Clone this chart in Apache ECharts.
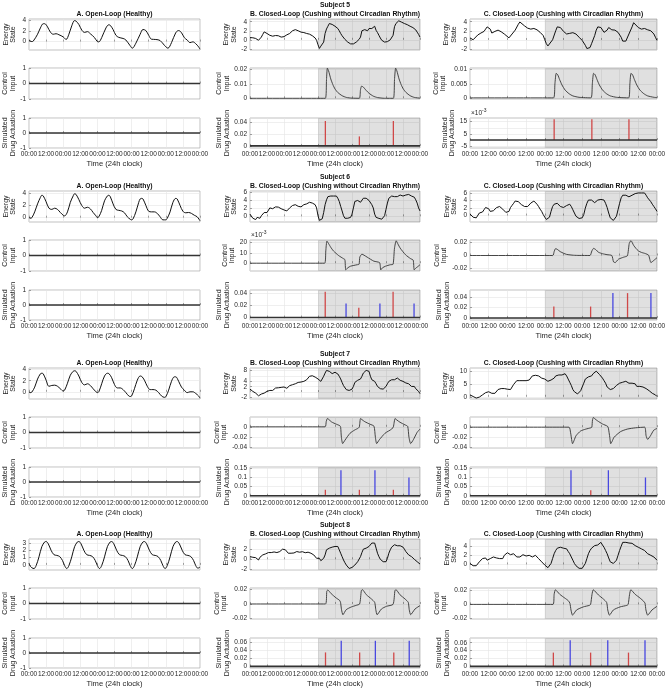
<!DOCTYPE html>
<html>
<head>
<meta charset="utf-8">
<script src="https://cdn.jsdelivr.net/npm/echarts@6/dist/echarts.min.js"></script>
<style>
html, body { margin: 0; padding: 0; background: #fff; }
#chart { width: 669px; height: 691px; }
</style>
</head>
<body>
<div id="chart"></div>
<script>
// ---- data (hours 0..120) ----
const xTickLabels = ['00:00','12:00','00:00','12:00','00:00','12:00','00:00','12:00','00:00','12:00','00:00'];
const subjectTitles = ['Subject 5', 'Subject 6', 'Subject 7', 'Subject 8'];
const columnTitles = ['A. Open-Loop (Healthy)', 'B. Closed-Loop (Cushing without Circadian Rhythm)', 'C. Closed-Loop (Cushing with Circadian Rhythm)'];
const rowNames = ['Energy\nState', 'Control\nInput', 'Simulated\nDrug Actuation'];
const zeroLine = [[0, 0], [120, 0]];
const shadeFrom = 48, shadeTo = 120;

// Subject 5
const s5A_energy = [[0,0.3],[2,0],[3,0.1],[6,1.4],[8,2.6],[10,3.4],[11,3.4],[13,2.8],[15,1.8],[17,1.4],[19,1.5],[21,1.3],[24,0.9],[26,0.4],[28,1.4],[30,3.0],[32,4.0],[33,3.9],[35,3.25],[37,2.2],[39,1.75],[41,1.9],[43,1.5],[46,0.75],[48,0],[49,-0.05],[51,0.75],[54,2.6],[56,3.2],[57,3.1],[59,2.3],[61,1.2],[63,0.8],[66,0.6],[68,0.3],[71,-0.8],[72.5,-1.25],[75,-0.3],[78,1.4],[80,2.3],[82,2.1],[84,1.2],[86,0.45],[89,0.4],[92,0.2],[95,-0.7],[97.5,-1.25],[100,-0.2],[103,1.7],[105,2.1],[107,1.7],[109,0.75],[111,0.3],[113,-0.2],[115,-0.05],[117,-0.4],[119,-1.0],[120,-1.45]];
const s5B_energy = [[0,0.5],[1,0.3],[2,0.45],[3,0.1],[4,0.3],[5,-0.05],[6,-0.1],[7,0.2],[8,0.6],[9,1.2],[10,1.75],[11,2.1],[12,1.4],[13,1.6],[14,1.0],[15,1.2],[16,0.8],[17,0.75],[18,0.95],[19,0.7],[20,0.9],[21,0.65],[22,0.6],[23,0.9],[24,0.7],[25,0.75],[26,1.1],[27,1.0],[28,1.4],[29,1.7],[30,2.0],[31,2.1],[32,2.25],[33,2.0],[34,2.0],[35,1.8],[36,1.7],[37,1.5],[38,1.6],[39,1.35],[40,1.4],[41,1.2],[42,1.25],[43,1.0],[44,0.9],[45,0.6],[46,0.4],[47,-0.1],[48,-1.1],[49,-1.9],[50,-1.4],[51,-1.1],[52,-0.5],[53,1.4],[54,2.4],[55,3.0],[56,3.6],[57,3.5],[58,3.4],[59,3.2],[60,3.0],[61,2.8],[62,2.5],[63,2.0],[64,1.4],[65,0.9],[66,0.5],[67,0.1],[68,-0.3],[69,-0.5],[70,-0.7],[71,-0.9],[72,-1.1],[73,-0.9],[74,-0.75],[75,-0.5],[76,-0.3],[77,0.1],[78,0.6],[79,2.0],[80,2.2],[81,2.25],[82,2.1],[83,2.0],[84,2.5],[85,2.4],[86,2.5],[87,2.9],[88,3.0],[89,2.1],[90,1.6],[91,1.0],[92,0.4],[93,-0.1],[94,-0.3],[95,-0.5],[96,-0.45],[97,-0.4],[98,-0.2],[99,0],[100,0.3],[101,1.0],[102,2.9],[103,3.6],[104,4.0],[105,4.2],[106,4.0],[107,3.9],[108,3.8],[109,3.6],[110,3.5],[111,3.35],[112,3.2],[113,3.0],[114,2.9],[115,2.7],[116,2.5],[117,2.2],[118,1.7],[119,1.2],[120,0.6]];
const s5C_energy = [[0,0.46],[2,0.04],[3,0.1],[5,1.1],[7,1.52],[9,1.88],[10,2.38],[11,2.87],[12,2.59],[13,2.38],[14,1.52],[16,1.88],[18,2.16],[20,1.8],[22,1.31],[23,0.96],[25,0.46],[27,1.31],[29,2.16],[31,3.44],[32,3.94],[33,3.79],[35,3.09],[37,2.59],[39,2.38],[41,2.52],[43,2.23],[45,1.67],[47,0.96],[48,0.04],[49,-0.82],[50,-1.31],[51,-1.03],[53,0.04],[55,2.02],[56,2.87],[57,3.01],[58,2.73],[60,1.88],[61,1.67],[62,1.31],[64,1.45],[66,1.6],[67,1.88],[68,1.31],[70,0.6],[72,-0.1],[74,-1.17],[75,-1.88],[76,-1.95],[77,-1.67],[78,-0.82],[80,0.96],[81,2.16],[82,2.87],[83,3.09],[84,2.73],[86,1.67],[87,1.88],[88,2.16],[89,2.73],[91,2.23],[93,2.16],[95,1.67],[97,0.6],[98,-0.25],[99,-0.53],[100,-0.25],[102,1.31],[104,2.87],[105,3.79],[106,3.65],[108,2.73],[110,2.38],[112,2.52],[114,2.23],[116,2.02],[118,1.31],[119,0.6],[120,-0.1]];
const s5B_control = [[0,0],[53.2,0],[54,0.013],[54.6,0.021],[55.5,0.019],[57,0.0135],[58.5,0.0095],[60,0.0065],[62,0.004],[65,0.0018],[68,0.0006],[72,0.0001],[77.2,0],[78,0.006],[78.8,0.0085],[80,0.0078],[82,0.0055],[84,0.0035],[87,0.0015],[90,0.0005],[95,0],[101.2,0],[102,0.013],[102.8,0.021],[103.7,0.019],[105.2,0.0135],[106.7,0.0095],[108.2,0.0065],[110.2,0.004],[113,0.0018],[116,0.0006],[120,0.0001]];
const s5C_control = [[0,0],[53.6,0],[54.5,0.005],[55.3,0.0087],[56.3,0.0082],[57.5,0.0065],[59,0.0046],[61,0.0028],[63.5,0.0015],[66,0.0007],[70,0.0002],[77.6,0],[78.5,0.005],[79.3,0.0087],[80.3,0.0082],[81.5,0.0065],[83,0.0046],[85,0.0028],[87.5,0.0015],[90,0.0007],[94,0.0002],[101.8,0],[102.6,0.005],[103.3,0.0087],[104.3,0.0082],[105.5,0.0065],[107,0.0046],[109,0.0028],[111.5,0.0015],[114,0.0007],[118,0.0002],[120,0.0001]];
const s5B_red = [[53.2,0.042],[77.2,0.016],[101.2,0.042]];
const s5B_blue = [];
const s5C_red = [[54,0.017],[78.2,0.017],[102,0.017]];
const s5C_blue = [];
const s5_ticks = [[0,2,4],[-1,0,1],[-1,0,1],[-2,0,2,4],[0,0.01,0.02],[0,0.02,0.04],[-2,0,2,4],[0,0.005,0.01],[-0.005,0,0.005,0.01,0.015]];
const s5_ranges = [[-1.6,4.3],[-1,1],[-1,1],[-2.25,4.6],[-0.0005,0.0211],[-0.0035,0.047],[-2.2,4.6],[-0.0004,0.0106],[-0.0065,0.018]];

// Subject 6
const s6A_energy = [[0,0.05],[1,-0.1],[2,0],[4,0.95],[6,2.25],[8,3.3],[9,3.65],[10,3.55],[12,2.6],[14,1.55],[16,1.35],[18,1.55],[20,1.35],[22,0.85],[24,0.4],[25,0.3],[27,0.95],[29,2.5],[31,3.55],[32,3.9],[33,3.8],[35,2.95],[37,2.0],[39,1.55],[41,1.7],[43,1.45],[45,0.85],[47,0.3],[48,0],[49,0.15],[51,1.2],[53,2.75],[55,3.55],[56,3.65],[57,3.45],[59,2.25],[61,1.35],[63,1.2],[65,1.1],[67,0.8],[69,0.15],[71,-0.25],[72,-0.35],[73,-0.2],[75,0.95],[77,2.5],[78,3.05],[79,3.15],[80,3.05],[82,2.0],[84,1.05],[86,0.95],[88,0.95],[90,0.7],[92,0.15],[94,-0.35],[96,-0.35],[97,-0.1],[99,0.95],[101,2.5],[103,3.15],[104,3.05],[106,2.0],[108,1.05],[110,0.8],[112,0.85],[114,0.7],[116,0.4],[118,0.15],[120,-0.5]];
const s6B_energy = [[0,0.55],[1,0.15],[2,-0.47],[3,-0.6],[4,-0.8],[5,-0.25],[6,-0.63],[7,-0.47],[8,0.15],[9,0.55],[10,0.95],[11,1.1],[12,0.95],[13,1.35],[14,2.1],[15,1.9],[16,1.9],[17,2.2],[18,2.35],[19,2.1],[20,2.3],[21,2.0],[22,1.9],[23,1.75],[24,1.6],[25,1.5],[26,1.35],[27,1.75],[28,2.1],[29,2.4],[30,2.7],[31,3.1],[32,2.9],[33,2.7],[34,2.5],[35,2.7],[36,2.35],[37,2.6],[38,2.9],[39,3.0],[40,3.1],[41,3.3],[42,3.5],[43,3.7],[44,3.3],[45,3.1],[46,2.9],[47,2.1],[48,0.15],[49,-1.0],[50,-1.2],[51,-0.6],[52,0.95],[53,2.9],[54,4.1],[55,4.9],[56,4.75],[57,5.05],[58,4.75],[59,5.05],[60,5.3],[61,5.05],[62,4.5],[63,3.7],[64,2.5],[65,1.35],[66,0.15],[67,-0.47],[68,-0.63],[69,-0.47],[70,-0.8],[71,-0.25],[72,0.55],[73,2.1],[74,3.7],[75,4.1],[76,3.95],[77,3.7],[78,3.5],[79,3.95],[80,4.5],[81,4.65],[82,4.5],[83,4.25],[84,3.95],[85,3.5],[86,2.9],[87,2.1],[88,0.55],[89,-0.25],[90,-0.63],[91,-0.5],[92,-0.63],[93,-0.7],[94,-0.47],[95,0.15],[96,1.75],[97,3.3],[98,4.5],[99,4.9],[100,5.05],[101,4.9],[102,4.9],[103,5.05],[104,4.9],[105,5.2],[106,5.3],[107,5.05],[108,5.05],[109,5.35],[110,5.3],[111,5.5],[112,5.45],[113,5.05],[114,5.05],[115,4.9],[116,4.75],[117,4.1],[118,3.3],[119,2.1],[120,1.35]];
const s6C_energy = [[0,0.43],[1,0.1],[2,-0.43],[3,-0.77],[4,-0.6],[5,-0.17],[6,0.68],[7,0.8],[8,0.94],[9,1.54],[10,2.14],[11,2.4],[12,1.8],[13,1.1],[14,0.94],[15,1.28],[16,1.8],[17,2.1],[18,2.4],[19,2.4],[20,2.14],[21,1.7],[22,1.28],[23,0.85],[24,0.43],[25,1.1],[26,2.14],[27,2.7],[28,3.25],[29,3.85],[30,3.93],[31,3.68],[32,3.25],[33,2.9],[34,2.65],[35,2.4],[36,2.22],[37,2.4],[38,2.82],[39,3.3],[40,3.68],[41,3.85],[42,3.68],[43,3.0],[44,2.4],[45,1.7],[46,1.1],[47,0.26],[48,-0.43],[49,-1.03],[50,-0.77],[51,-0.43],[52,1.1],[53,2.4],[54,3.0],[55,3.5],[56,3.25],[57,2.8],[58,2.4],[59,2.2],[60,2.14],[61,2.4],[62,2.65],[63,2.82],[64,3.0],[65,2.4],[66,1.54],[67,0.68],[68,-0.17],[69,-0.55],[70,-0.77],[71,-0.85],[72,-0.6],[73,0.26],[74,1.97],[75,3.25],[76,4.1],[77,4.36],[78,4.1],[79,3.68],[80,3.42],[81,3.68],[82,4.1],[83,4.27],[84,4.27],[85,4.36],[86,4.1],[87,3.25],[88,2.14],[89,0.68],[90,-0.6],[91,-1.03],[92,-1.28],[93,-1.03],[94,-0.17],[95,1.54],[96,3.25],[97,4.7],[98,5.38],[99,5.56],[100,5.38],[101,5.2],[102,4.96],[103,5.13],[104,5.38],[105,5.56],[106,5.81],[107,5.9],[108,5.98],[109,5.81],[110,5.98],[111,6.07],[112,5.98],[113,5.4],[114,4.7],[115,4.2],[116,3.68],[117,3.0],[118,2.4],[119,1.8],[120,1.1]];
const s6B_control = [[0,0],[52.7,0],[53.5,0.012],[54.3,0.0215],[55.5,0.019],[57,0.0155],[59,0.0118],[62.6,0.0074],[66,0.0044],[67,0.0035],[67.6,-0.0065],[69,-0.0045],[71,-0.0029],[75.6,-0.0015],[77,-0.001],[77.5,0.0059],[79,0.0088],[80.5,0.0078],[82.7,0.0059],[87.4,0.002],[91.5,0.0005],[92.3,-0.0065],[93.5,-0.0045],[95.7,-0.0029],[99,-0.0015],[101,-0.001],[102,0.0147],[103.2,0.0218],[104.5,0.0185],[106,0.0147],[109.8,0.0082],[113.4,0.0044],[115.2,0.003],[115.9,-0.0065],[117,-0.0048],[118,-0.0038],[120,-0.0015]];
const s6C_control = [[0,0],[53.1,0],[54,0.006],[54.9,0.0106],[56,0.0095],[57.9,0.006],[60,0.0035],[62,0.0017],[66.4,0.0004],[70,0.0001],[77,0],[78.2,0.007],[79.3,0.011],[80.5,0.0095],[82.5,0.005],[85,0.0028],[87.9,0.0013],[91,0],[92.1,-0.0098],[93.2,-0.011],[94.2,-0.0085],[95.4,-0.0055],[98.6,-0.0026],[101,-0.0004],[102.2,0.0187],[103.3,0.023],[105,0.0157],[106.5,0.011],[108,0.0072],[110,0.0048],[112.5,0.003],[114.6,0.0005],[116.1,-0.011],[117,-0.0095],[117.9,-0.0077],[120,-0.0034]];
const s6B_red = [[53.1,0.042],[76.8,0.016],[101,0.042]];
const s6B_blue = [[67.8,0.023],[91.7,0.023],[115.8,0.023]];
const s6C_red = [[53.8,0.022],[77.4,0.022],[101.1,0.048]];
const s6C_blue = [[91.7,0.048],[116.1,0.048]];
const s6_ticks = [[0,2,4],[-1,0,1],[-1,0,1],[0,2,4,6],[0,0.01,0.02],[0,0.02,0.04],[0,2,4,6],[-0.02,0,0.02],[0,0.02,0.04]];
const s6_ranges = [[-0.7,4.35],[-1,1],[-1,1],[-1.4,6.3],[-0.0076,0.0226],[-0.004,0.045],[-1.7,6.5],[-0.024,0.024],[-0.004,0.054]];

// Subject 7
const s7A_energy = [[0,0],[1,-0.15],[2,-0.05],[4,0.85],[6,2.3],[8,3.25],[9,3.35],[10,3.25],[12,2.1],[14,1.0],[16,1.15],[18,1.2],[20,1.0],[22,0.55],[24,0.15],[25,0.3],[27,1.55],[29,3.0],[31,3.7],[32,3.8],[33,3.7],[35,2.85],[37,1.7],[39,1.25],[41,1.45],[43,1.15],[45,0.55],[47,0],[48,-0.15],[49,0],[51,1.45],[53,2.85],[55,3.35],[56,3.3],[58,2.55],[60,1.3],[62,0.7],[64,0.7],[66,0.4],[68,-0.15],[70,-0.75],[71,-0.85],[72,-0.75],[74,0.55],[76,2.1],[78,2.85],[79,2.8],[81,2.1],[83,1.0],[85,0.4],[87,0.4],[89,0.3],[91,-0.15],[93,-0.75],[95,-1.0],[96,-0.9],[98,0.3],[100,1.9],[102,2.7],[103,2.7],[105,1.9],[107,0.85],[109,0.3],[111,-0.15],[113,0],[115,0],[117,-0.3],[119,-0.75],[120,-1.15]];
const s7B_energy = [[0,1.1],[1,0.7],[2,0.25],[3,0.1],[4,-0.4],[5,-0.75],[6,-1.4],[7,-1.6],[8,-0.75],[9,-0.4],[10,-0.4],[11,0.25],[12,0.25],[13,0.4],[14,0.6],[15,0.4],[16,0.6],[17,1.25],[18,1.5],[19,1.4],[20,1.6],[21,1.5],[22,1.75],[23,1.6],[24,1.9],[25,1.7],[26,1.4],[27,2.0],[28,2.4],[29,2.5],[30,2.75],[31,2.9],[32,3.1],[33,3.6],[34,3.6],[35,3.5],[36,3.75],[37,3.6],[38,4.0],[39,4.3],[40,4.6],[41,4.9],[42,5.9],[43,6.5],[44,6.1],[45,5.8],[46,5.6],[47,5.6],[48,4.9],[49,4.6],[50,4.0],[51,4.4],[52,5.9],[53,7.1],[54,8.1],[55,8.4],[56,7.75],[57,7.1],[58,6.9],[59,7.1],[60,7.4],[61,7.5],[62,6.75],[63,5.9],[64,4.9],[65,3.6],[66,2.4],[67,1.9],[68,0.9],[69,0.6],[70,0.6],[71,0.6],[72,1.1],[73,2.1],[74,3.6],[75,4.0],[76,4.4],[77,4.6],[78,4.9],[79,5.9],[80,7.1],[81,7.75],[82,8.1],[83,8.6],[84,7.75],[85,5.9],[86,4.6],[87,4.0],[88,4.0],[89,3.1],[90,2.1],[91,1.5],[92,1.25],[93,1.3],[94,1.1],[95,1.4],[96,2.1],[97,3.1],[98,4.0],[99,4.4],[100,4.6],[101,4.9],[102,4.6],[103,4.9],[104,5.25],[105,4.9],[106,4.4],[107,4.6],[108,4.0],[109,4.0],[110,3.4],[111,3.1],[112,3.1],[113,2.4],[114,2.1],[115,2.3],[116,2.1],[117,1.25],[118,0.6],[119,0.25],[120,-0.6]];
const s7C_energy = [[0,0.73],[1,0.5],[2,0.12],[3,-0.12],[4,-0.49],[5,0.12],[6,-0.12],[7,0.3],[8,0.73],[9,1.34],[10,1.59],[11,2.32],[12,1.95],[13,1.34],[14,1.34],[15,1.59],[16,1.34],[17,1.95],[18,2.8],[19,3.17],[20,3.17],[21,3.0],[22,3.17],[23,3.0],[24,2.93],[25,2.56],[26,2.8],[27,3.78],[28,4.76],[29,5.24],[30,6.22],[31,6.46],[32,6.22],[33,6.46],[34,6.22],[35,6.46],[36,6.22],[37,5.98],[38,6.46],[39,7.2],[40,8.05],[41,8.41],[42,8.29],[43,8.05],[44,8.05],[45,7.44],[46,7.2],[47,7.44],[48,6.83],[49,6.46],[50,5.98],[51,6.22],[52,6.46],[53,6.83],[54,7.2],[55,8.05],[56,8.66],[57,8.41],[58,8.05],[59,8.41],[60,8.66],[61,8.9],[62,8.05],[63,6.83],[64,5.61],[65,4.39],[66,2.8],[67,1.95],[68,1.34],[69,1.1],[70,1.59],[71,2.32],[72,3.78],[73,5.24],[74,6.83],[75,7.44],[76,7.68],[77,7.68],[78,8.05],[79,8.9],[80,9.63],[81,9.88],[82,9.27],[83,8.66],[84,8.05],[85,7.2],[86,6.22],[87,5.24],[88,3.78],[89,3.17],[90,2.8],[91,2.8],[92,3.17],[93,3.78],[94,4.39],[95,5.0],[96,5.24],[97,5.61],[98,5.61],[99,5.98],[100,5.98],[101,5.61],[102,5.24],[103,5.0],[104,5.24],[105,5.0],[106,5.0],[107,4.02],[108,4.02],[109,4.02],[110,4.39],[111,3.78],[112,3.54],[113,3.17],[114,2.8],[115,2.32],[116,1.95],[117,1.34],[118,1.1],[119,0.73],[120,0.12]];
const s7B_control = [[0,0],[53,0],[53.8,0.01],[54.6,0.016],[55.5,0.0145],[57.6,0.0094],[61,0.005],[63.5,0.002],[64,-0.001],[64.5,-0.02],[65.4,-0.0325],[67,-0.026],[70.6,-0.0125],[74,-0.006],[76.5,-0.0025],[77.2,0],[78,0.016],[79,0.014],[81,0.01],[84.7,0.005],[87.5,0.0013],[88.5,-0.02],[89.4,-0.0325],[91.3,-0.025],[95.3,-0.0125],[100,-0.0044],[101.2,0],[102.4,0.016],[103.5,0.0135],[105.9,0.0088],[109.4,0.0038],[111.3,0.001],[112.2,-0.02],[113.4,-0.0325],[115.3,-0.025],[118,-0.0106],[120,-0.0044]];
const s7C_control = [[0,0],[63.5,0],[64.5,-0.01],[65.4,-0.028],[65.8,-0.0325],[66.8,-0.026],[68,-0.017],[71,-0.0075],[74.3,-0.0038],[77.5,-0.0013],[78.2,0],[78.6,0.014],[79.2,0.019],[80.3,0.016],[81.8,0.0125],[85,0.0063],[88.2,0.0019],[88.8,-0.002],[89.7,-0.02],[90.3,-0.0325],[91.2,-0.028],[92.4,-0.02],[96.6,-0.0088],[100.9,-0.0038],[106.2,-0.0013],[112.1,0],[113,-0.017],[114,-0.024],[115.8,-0.017],[117.9,-0.006],[120,-0.0025]];
const s7B_red = [[53.2,0.033],[77.2,0.033],[101.2,0.033]];
const s7B_blue = [[64.2,0.141],[88.2,0.141],[112.2,0.101]];
const s7C_red = [[77.5,0.031]];
const s7C_blue = [[64.8,0.141],[88.8,0.141],[112.6,0.101]];
const s7_ticks = [[0,2,4],[-1,0,1],[-1,0,1],[-2,0,2,4,6,8],[-0.04,-0.02,0],[0,0.05,0.1,0.15],[0,5,10],[-0.04,-0.02,0],[0,0.05,0.1,0.15]];
const s7_ranges = [[-1.3,4.3],[-1,1],[-1,1],[-2.6,9],[-0.041,0.019],[-0.007,0.159],[-0.85,11.1],[-0.041,0.02],[-0.007,0.159]];

// Subject 8
const s8A_energy = [[0,0.2],[1,-0.2],[2,-0.4],[3.5,-0.5],[5,-0.1],[7,1.1],[9,2.5],[11,3.15],[12,3.2],[13.5,2.9],[15.5,2.0],[17.5,1.4],[19.5,1.3],[21.5,1.15],[23.5,0.6],[25,-0.1],[26.5,-0.5],[28,-0.1],[30,1.1],[32,2.5],[34,3.15],[35,3.2],[36.5,2.9],[38.5,2.0],[40.5,1.4],[42.5,1.3],[44.5,1.15],[46.5,0.6],[48,-0.1],[49.5,-0.5],[51,-0.1],[53,1.1],[55,2.5],[57,3.15],[58,3.2],[59.5,2.9],[61.5,2.0],[63.5,1.4],[65.5,1.3],[67.5,1.15],[69.5,0.6],[71,-0.1],[72.5,-0.5],[74,-0.1],[76,1.1],[78,2.5],[80,3.15],[81,3.2],[82.5,2.9],[84.5,2.0],[86.5,1.4],[88.5,1.3],[90.5,1.15],[92.5,0.6],[94,-0.1],[95.5,-0.5],[97,-0.1],[99,1.1],[101,2.5],[103,3.15],[104,3.2],[105.5,2.9],[107.5,2.0],[109.5,1.4],[111.5,1.3],[113.5,1.15],[115.5,0.6],[117,-0.1],[118.5,-0.45],[120,-0.3]];
const s8B_energy = [[0,0.53],[1,0.45],[2,0.4],[3,0.67],[4,0.33],[5,0],[6,-0.13],[7,0.4],[8,0.53],[9,0.87],[10,0.67],[11,1.07],[12,1.0],[13,1.33],[14,1.07],[15,1.33],[16,1.33],[17,1.45],[18,1.53],[19,1.33],[20,1.2],[21,1.53],[22,1.87],[23,2.0],[24,2.0],[25,1.87],[26,1.53],[27,1.2],[28,0.87],[29,1.2],[30,1.33],[31,1.25],[32,1.2],[33,1.53],[34,1.53],[35,1.4],[36,1.33],[37,1.5],[38,1.4],[39,1.3],[40,1.2],[41,1.4],[42,1.33],[43,1.2],[44,1.07],[45,0.87],[46,0.67],[47,0.2],[48,-0.13],[49,0.2],[50,-0.27],[51,-0.13],[52,0.2],[53,0.87],[54,1.87],[55,2.0],[56,2.2],[57,2.4],[58,2.4],[59,2.67],[60,2.53],[61,2.87],[62,2.53],[63,1.87],[64,1.2],[65,0.53],[66,-0.13],[67,-0.67],[68,-1.13],[69,-1.47],[70,-1.8],[71,-1.8],[72,-1.6],[73,-1.33],[74,-1.13],[75,-0.8],[76,-0.47],[77,-0.13],[78,0.53],[79,1.33],[80,2.0],[81,2.2],[82,2.2],[83,2.4],[84,2.53],[85,2.67],[86,3.2],[87,3.53],[88,3.2],[89,2.2],[90,1.2],[91,0.53],[92,0],[93,-0.27],[94,-0.47],[95,-0.27],[96,-0.47],[97,0.2],[98,1.2],[99,1.87],[100,2.4],[101,2.67],[102,2.87],[103,2.8],[104,2.67],[105,2.87],[106,2.67],[107,2.53],[108,2.4],[109,2.0],[110,1.53],[111,1.2],[112,0.87],[113,0.53],[114,0.53],[115,0.2],[116,0],[117,-0.27],[118,-0.47],[119,-0.67],[120,-0.93]];
const s8C_energy = [[0,0.22],[1,0],[2,-0.29],[3,-0.51],[4,-0.29],[5,0],[6,0.58],[7,0.95],[8,1.31],[9,1.67],[10,1.45],[11,0.95],[12,0.95],[13,1.31],[14,1.45],[15,1.67],[16,1.67],[17,1.45],[18,1.67],[19,1.31],[20,0.95],[21,1.31],[22,2.04],[23,2.4],[24,2.62],[25,2.4],[26,2.18],[27,2.4],[28,2.4],[29,2.04],[30,1.67],[31,1.45],[32,1.67],[33,2.04],[34,2.18],[35,2.04],[36,1.89],[37,2.18],[38,2.04],[39,1.67],[40,1.67],[41,2.04],[42,2.04],[43,1.67],[44,1.31],[45,0.95],[46,0.58],[47,0.22],[48,-0.15],[49,-0.51],[50,-0.73],[51,-0.51],[52,0.22],[53,1.31],[54,2.4],[55,3.13],[56,3.64],[57,3.85],[58,3.85],[59,3.64],[60,3.64],[61,3.64],[62,3.49],[63,2.91],[64,2.4],[65,1.67],[66,0.95],[67,0.22],[68,-0.29],[69,-0.73],[70,-0.87],[71,-0.87],[72,-0.87],[73,-0.51],[74,0.22],[75,1.31],[76,2.4],[77,3.13],[78,3.64],[79,3.85],[80,4.22],[81,4.36],[82,4.36],[83,4.58],[84,4.95],[85,4.36],[86,3.85],[87,3.13],[88,2.4],[89,1.45],[90,0.58],[91,0.22],[92,0.22],[93,0.58],[94,0.95],[95,2.04],[96,3.13],[97,4.07],[98,4.95],[99,5.09],[100,4.95],[101,4.95],[102,4.8],[103,4.95],[104,4.73],[105,4.36],[106,4.22],[107,4.07],[108,3.85],[109,3.64],[110,3.49],[111,3.35],[112,3.13],[113,2.76],[114,2.4],[115,2.18],[116,2.04],[117,1.89],[118,1.67],[119,1.31],[120,0.95]];
const s8B_control = [[0,0],[53.3,0],[54.2,0.0177],[54.9,0.0195],[57.3,0.0144],[60.8,0.0084],[63.2,0.0051],[63.9,0.0023],[64.6,-0.008],[65.6,-0.015],[67.9,-0.008],[71.5,-0.0042],[75,-0.0019],[77.4,0],[78.6,0.0186],[79.3,0.02],[82.1,0.013],[85.7,0.007],[88,0.0023],[88.8,-0.008],[89.7,-0.015],[92.8,-0.007],[96.3,-0.0033],[101,-0.0005],[102.3,0.0186],[103,0.02],[105.8,0.013],[109.4,0.007],[111.7,0.0023],[112.4,-0.008],[113.4,-0.015],[116.5,-0.007],[120,-0.0023]];
const s8C_control = [[0,0],[53.3,0],[54,0.0145],[54.8,0.021],[57.6,0.0145],[60.9,0.009],[63,0.0055],[64.1,0.0018],[64.8,-0.008],[65.8,-0.0155],[68.4,-0.008],[72.7,-0.0036],[76.6,-0.0014],[77.4,0],[78.3,0.0145],[79.1,0.021],[82.4,0.0136],[85.6,0.0077],[87.7,0.0027],[88.4,-0.008],[89.5,-0.0155],[92,-0.008],[96.3,-0.0036],[100.6,-0.0014],[101.5,0],[102.4,0.0145],[103.2,0.021],[106,0.0145],[109.2,0.009],[111.4,0.0045],[112.3,0.0018],[112.9,-0.008],[114,-0.0155],[116.8,-0.008],[120,-0.0027]];
const s8B_red = [[53.3,0.035],[77.4,0.035],[101.5,0.035]];
const s8B_blue = [[64.4,0.064],[88.5,0.064],[112.4,0.064]];
const s8C_red = [[53.5,0.035],[77.4,0.035],[101.7,0.035]];
const s8C_blue = [[64.3,0.066],[88.4,0.066],[112.3,0.066]];
const s8_ticks = [[0,1,2,3],[-1,0,1],[-1,0,1],[-2,0,2],[-0.02,0,0.02],[0,0.02,0.04,0.06],[0,2,4],[-0.02,0,0.02],[0,0.02,0.04,0.06]];
const s8_ranges = [[-0.7,3.55],[-1,1],[-1,1],[-2.1,4.0],[-0.021,0.0223],[-0.004,0.071],[-1.25,5.7],[-0.021,0.0236],[-0.004,0.072]];

// panels whose tick labels carry a x10^-3 multiplier: [subject, column, row]
const scaledPanels = [[0, 2, 2], [1, 1, 1]];

// ---- layout ----
const blockTop = [0, 172, 349, 520];
const colLeft = [29, 250, 470];
const colWidth = [171, 170, 187];
const rowTop = [19, 68, 118];
const rowH = [31, 31, 30];
const FONT = '"Liberation Sans", Arial, Helvetica, sans-serif';
const RED = '#d04848', BLUE = '#4848e0';

const subjects = [
  { energy: [s5A_energy, s5B_energy, s5C_energy], control: [null, s5B_control, s5C_control],
    red: [null, s5B_red, s5C_red], blue: [null, s5B_blue, s5C_blue], ticks: s5_ticks, ranges: s5_ranges },
  { energy: [s6A_energy, s6B_energy, s6C_energy], control: [null, s6B_control, s6C_control],
    red: [null, s6B_red, s6C_red], blue: [null, s6B_blue, s6C_blue], ticks: s6_ticks, ranges: s6_ranges },
  { energy: [s7A_energy, s7B_energy, s7C_energy], control: [null, s7B_control, s7C_control],
    red: [null, s7B_red, s7C_red], blue: [null, s7B_blue, s7C_blue], ticks: s7_ticks, ranges: s7_ranges },
  { energy: [s8A_energy, s8B_energy, s8C_energy], control: [null, s8B_control, s8C_control],
    red: [null, s8B_red, s8C_red], blue: [null, s8B_blue, s8C_blue], ticks: s8_ticks, ranges: s8_ranges }
];

const ctx = document.createElement('canvas').getContext('2d');
function textW(s, size) {
  ctx.font = size + 'px ' + FONT;
  return ctx.measureText(s).width;
}
function isScaled(b, c, r) {
  return scaledPanels.some(p => p[0] === b && p[1] === c && p[2] === r);
}
function fmtTick(v, scaled) {
  if (scaled) return String(Math.round(v * 1000));
  return String(+v.toFixed(6));
}

const grids = [], xAxes = [], yAxes = [], series = [], graphics = [];

subjects.forEach((s, b) => {
  // titles
  graphics.push({ type: 'text', x: colLeft[1] + colWidth[1] / 2, y: blockTop[b] + 5, silent: true,
    style: { text: subjectTitles[b], font: 'bold 6.8px ' + FONT, fill: '#111',
      align: 'center', verticalAlign: 'middle', textAlign: 'center', textVerticalAlign: 'middle' } });
  for (let c = 0; c < 3; c++) {
    graphics.push({ type: 'text', x: colLeft[c] + colWidth[c] / 2, y: blockTop[b] + 14, silent: true,
      style: { text: columnTitles[c], font: 'bold 6.8px ' + FONT, fill: '#111',
        align: 'center', verticalAlign: 'middle', textAlign: 'center', textVerticalAlign: 'middle' } });
    for (let r = 0; r < 3; r++) {
      const k = c * 3 + r;
      const gi = grids.length;
      const top = blockTop[b] + rowTop[r];
      const scaled = isScaled(b, c, r);
      const ticks = s.ticks[k];
      const labels = ticks.map(v => fmtTick(v, scaled));
      const maxW = Math.max(...labels.map(l => textW(l, 6.5)));

      grids.push({ left: colLeft[c], top: top, width: colWidth[c], height: rowH[r],
        show: true, borderColor: '#a8a8a8', borderWidth: 0.7, backgroundColor: 'transparent' });
      xAxes.push({
        type: 'value', gridIndex: gi, min: 0, max: 120, interval: 12,
        axisLine: { show: false },
        axisTick: { show: true, inside: true, length: 2, lineStyle: { color: '#666', width: 0.6 } },
        splitLine: { show: true, lineStyle: { color: '#e4e4e4', width: 0.6 } },
        axisLabel: { show: r === 2, showMinLabel: true, showMaxLabel: true, margin: 3,
          fontSize: 6.5, fontFamily: FONT, color: '#262626',
          formatter: v => xTickLabels[Math.round(v / 12)] },
        name: r === 2 ? 'Time (24h clock)' : '', nameLocation: 'middle', nameGap: 12,
        nameTextStyle: { fontSize: 7.6, fontFamily: FONT, color: '#262626' }
      });
      yAxes.push({
        type: 'value', gridIndex: gi, min: s.ranges[k][0], max: s.ranges[k][1],
        axisLine: { show: false },
        axisTick: { show: true, inside: true, length: 2, customValues: ticks, lineStyle: { color: '#666', width: 0.6 } },
        splitLine: { show: true, lineStyle: { color: '#e4e4e4', width: 0.6 } },
        axisLabel: { customValues: ticks, margin: 3, fontSize: 6.5, fontFamily: FONT, color: '#262626',
          showMinLabel: true, showMaxLabel: true, formatter: v => fmtTick(v, scaled) },
        name: rowNames[r], nameLocation: 'middle', nameRotate: 90,
        nameGap: Math.max(12, maxW + 5),
        nameTextStyle: { fontSize: 7, lineHeight: 7.5, fontFamily: FONT, color: '#262626' }
      });

      const shade = c > 0 ? { silent: true, itemStyle: { color: 'rgba(0,0,0,0.12)' },
        data: [[{ xAxis: shadeFrom }, { xAxis: shadeTo }]] } : undefined;

      if (r === 0) {
        series.push({ type: 'line', xAxisIndex: gi, yAxisIndex: gi, data: s.energy[c],
          showSymbol: false, smooth: c === 0 ? 0.35 : false, silent: true,
          lineStyle: { color: '#111', width: 1 }, markArea: shade });
      } else if (r === 1) {
        series.push({ type: 'line', xAxisIndex: gi, yAxisIndex: gi,
          data: c === 0 ? zeroLine : s.control[c], showSymbol: false, smooth: c === 0 ? false : 0.2, silent: true,
          lineStyle: { color: '#333', width: c === 0 ? 1.6 : 0.9 }, markArea: shade });
      } else {
        series.push({ type: 'line', xAxisIndex: gi, yAxisIndex: gi, data: zeroLine, showSymbol: false, silent: true,
          lineStyle: { color: '#333', width: 1.6 }, markArea: shade, z: 3 });
        if (c > 0) {
          const items = [];
          s.red[c].forEach(p => items.push({ value: p, itemStyle: { color: RED } }));
          s.blue[c].forEach(p => items.push({ value: p, itemStyle: { color: BLUE } }));
          series.push({ type: 'bar', xAxisIndex: gi, yAxisIndex: gi, data: items, barWidth: 1.3, silent: true, z: 2 });
        }
      }

      if (scaled) {
        graphics.push({ type: 'text', x: colLeft[c] + 1, y: top - 5, silent: true,
          style: { text: '\u00d710', font: '6.5px ' + FONT, fill: '#262626', align: 'left', verticalAlign: 'middle',
            textAlign: 'left', textVerticalAlign: 'middle' } });
        graphics.push({ type: 'text', x: colLeft[c] + 1 + textW('\u00d710', 6.5), y: top - 7.5, silent: true,
          style: { text: '-3', font: '5px ' + FONT, fill: '#262626', align: 'left', verticalAlign: 'middle',
            textAlign: 'left', textVerticalAlign: 'middle' } });
      }
    }
  }
});

const chart = echarts.init(document.getElementById('chart'), null, { renderer: 'canvas' });
chart.setOption({
  animation: false,
  backgroundColor: '#fff',
  grid: grids,
  xAxis: xAxes,
  yAxis: yAxes,
  series: series,
  graphic: { elements: graphics }
});
</script>
</body>
</html>
